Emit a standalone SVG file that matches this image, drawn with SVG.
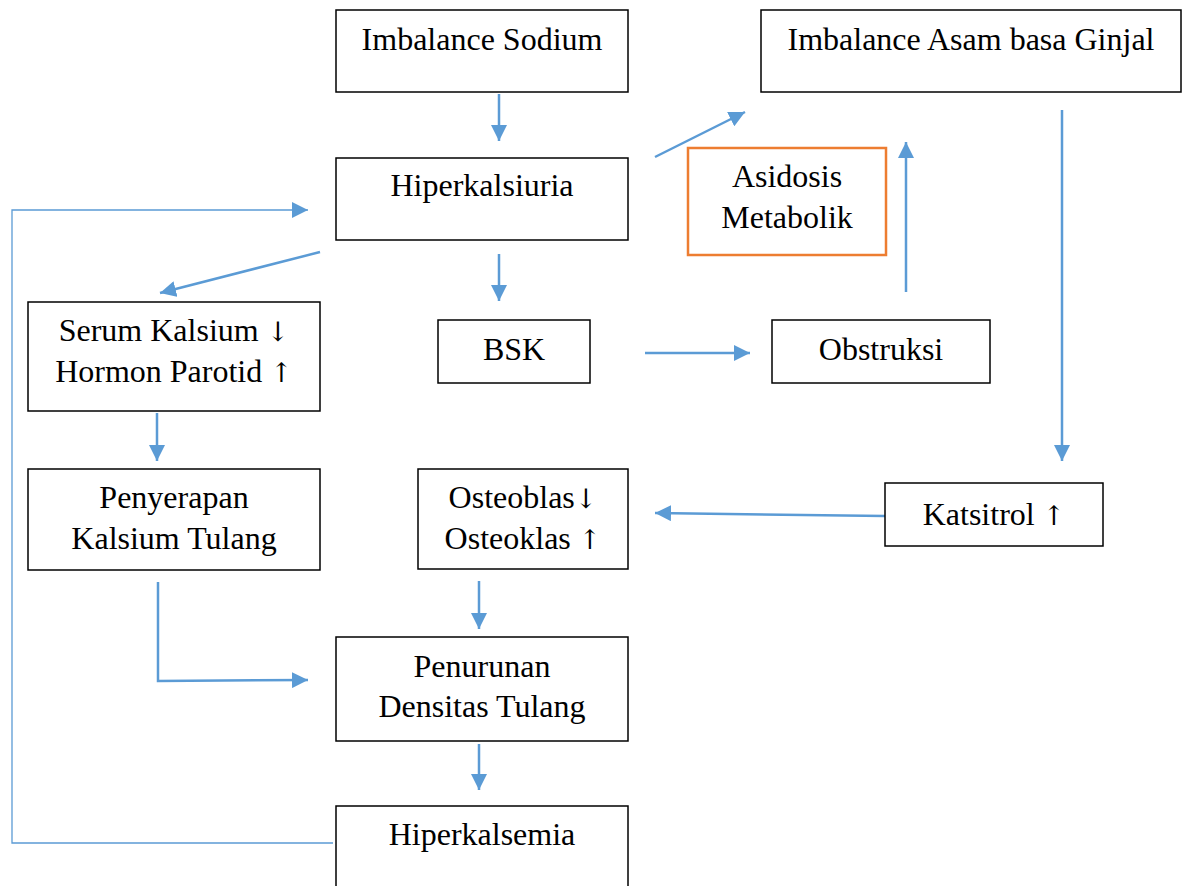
<svg xmlns="http://www.w3.org/2000/svg" width="1186" height="886" viewBox="0 0 1186 886">
<style>
.box{fill:#fff;stroke:#000;stroke-width:1.5}
.org{fill:#fff;stroke:#ED7D31;stroke-width:2.5}
.t{font-family:"Liberation Serif","Times New Roman",serif;font-size:32px;fill:#000;text-anchor:middle}
.ar{font-family:"DejaVu Serif","Liberation Serif",serif;font-size:27px}
.c{fill:none;stroke:#5B9BD5;stroke-width:2.5;marker-end:url(#ah)}
.thin{fill:none;stroke:#5B9BD5;stroke-width:1.3;marker-end:url(#ah2)}
</style>
<defs>
<marker id="ah" markerUnits="userSpaceOnUse" markerWidth="18" markerHeight="16" refX="16" refY="8" orient="auto">
<path d="M0,0 L16,8 L0,16 Z" fill="#5B9BD5"/>
</marker>
<marker id="ah2" markerUnits="userSpaceOnUse" markerWidth="18" markerHeight="16" refX="16" refY="8" orient="auto">
<path d="M0,0 L16,8 L0,16 Z" fill="#5B9BD5"/>
</marker>
</defs>
<rect width="1186" height="886" fill="#fff"/>
<g id="connectors">
<line class="c" x1="499" y1="94" x2="499" y2="141"/>
<line class="c" x1="655" y1="157" x2="745" y2="112"/>
<line class="c" x1="906" y1="292" x2="906" y2="142"/>
<line class="c" x1="1062" y1="110" x2="1062" y2="461"/>
<line class="c" x1="320" y1="252" x2="160" y2="293"/>
<line class="c" x1="499" y1="254" x2="499" y2="301"/>
<line class="c" x1="645" y1="353" x2="750" y2="353"/>
<line class="c" x1="157" y1="413" x2="157" y2="461"/>
<line class="c" x1="885" y1="516" x2="655" y2="513"/>
<polyline class="c" points="158,582 158,681 308,680"/>
<line class="c" x1="479" y1="581" x2="479" y2="629"/>
<line class="c" x1="479" y1="744" x2="479" y2="790"/>
<polyline class="thin" points="333,843 12,843 12,210 308,210"/>
</g>
<g id="imbalance-sodium"><rect class="box" x="336" y="10" width="292" height="82"/><text class="t" x="482" y="50">Imbalance Sodium</text></g>
<g id="imbalance-asam-basa"><rect class="box" x="761" y="10" width="420" height="82"/><text class="t" x="971" y="50">Imbalance Asam basa Ginjal</text></g>
<g id="hiperkalsiuria"><rect class="box" x="336" y="158" width="292" height="82"/><text class="t" x="482" y="196">Hiperkalsiuria</text></g>
<g id="asidosis-metabolik"><rect class="org" x="688" y="148" width="198" height="107"/><text class="t" x="787" y="187">Asidosis</text><text class="t" x="787" y="228">Metabolik</text></g>
<g id="serum-kalsium"><rect class="box" x="28" y="302" width="292" height="109"/><text class="t" x="174" y="341">Serum Kalsium <tspan class="ar">↓</tspan></text><text class="t" x="174" y="382">Hormon Parotid <tspan class="ar">↑</tspan></text></g>
<g id="bsk"><rect class="box" x="438" y="320" width="152" height="63"/><text class="t" x="514" y="360">BSK</text></g>
<g id="obstruksi"><rect class="box" x="772" y="320" width="218" height="63"/><text class="t" x="881" y="360">Obstruksi</text></g>
<g id="penyerapan"><rect class="box" x="28" y="469" width="292" height="101"/><text class="t" x="174" y="508">Penyerapan</text><text class="t" x="174" y="549">Kalsium Tulang</text></g>
<g id="osteoblas"><rect class="box" x="418" y="469" width="210" height="100"/><text class="t" x="523" y="508">Osteoblas<tspan class="ar">↓</tspan></text><text class="t" x="523" y="549">Osteoklas <tspan class="ar">↑</tspan></text></g>
<g id="katsitrol"><rect class="box" x="885" y="483" width="218" height="63"/><text class="t" x="994" y="525">Katsitrol <tspan class="ar">↑</tspan></text></g>
<g id="penurunan"><rect class="box" x="336" y="637" width="292" height="104"/><text class="t" x="482" y="677">Penurunan</text><text class="t" x="482" y="717">Densitas Tulang</text></g>
<g id="hiperkalsemia"><rect class="box" x="336" y="806" width="292" height="90"/><text class="t" x="482" y="845">Hiperkalsemia</text></g>
</svg>
